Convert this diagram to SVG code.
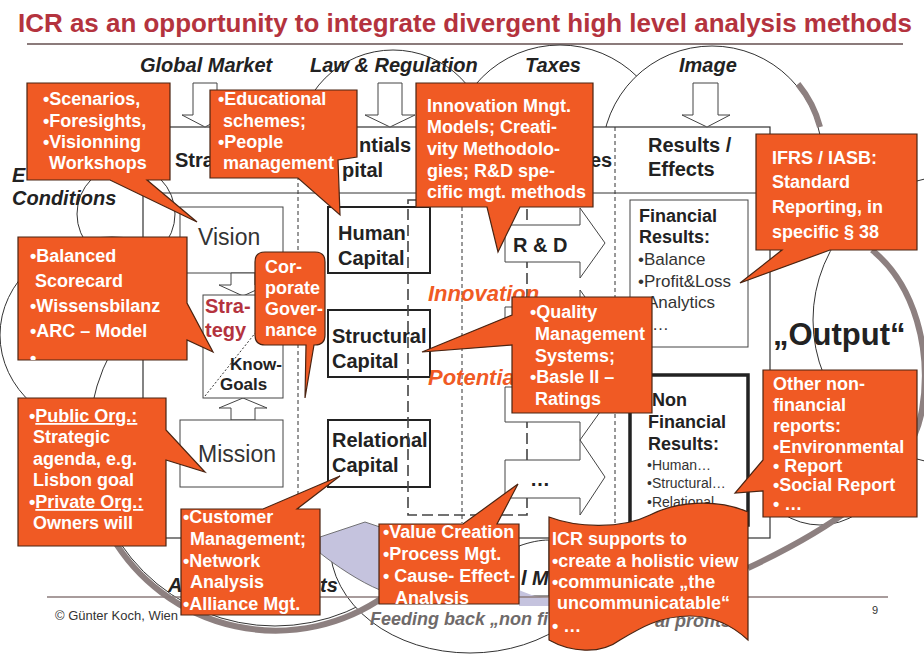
<svg xmlns="http://www.w3.org/2000/svg" width="924" height="659" viewBox="0 0 924 659">
<defs>
<style>
.cl{fill:#fff;stroke:#333;stroke-width:1}
.fr{fill:#fff;stroke:#333;stroke-width:1.2}
.bx{fill:#fff;stroke:#222;stroke-width:2}
.sb{fill:#fff;stroke:#444;stroke-width:1}
.ba{fill:#fff;stroke:#444;stroke-width:1}
.ds{fill:none;stroke:#333;stroke-width:1;stroke-dasharray:4 3}
.ld{fill:none;stroke:#444;stroke-width:1.6;stroke-dasharray:11 5}
.co{fill:#f05a24;stroke:#4a2412;stroke-width:1.2}
.sh{fill:none;stroke:#8d8080;stroke-width:6}
.ln{fill:none;stroke:#333;stroke-width:1}
text{font-family:"Liberation Sans",Arial,Helvetica,sans-serif}
.t{fill:#fff;font-weight:bold;font-size:18px}
.h{fill:#222;font-weight:bold;font-size:20px}
.x{fill:#222;font-weight:bold;font-style:italic;font-size:20px}
.n{fill:#333;font-size:17px}
.o{fill:#f05a24;font-weight:bold;font-style:italic;font-size:22px}
</style>
<clipPath id="cb"><rect x="18" y="237" width="169" height="123"/></clipPath>
<clipPath id="cv"><rect x="379" y="524" width="140" height="80"/></clipPath>
</defs>
<rect width="924" height="659" fill="#fff"/>

<g id="title">
<text x="18" y="32" font-size="26" font-weight="bold" fill="#b4333e" textLength="894" lengthAdjust="spacingAndGlyphs">ICR as an opportunity to integrate divergent high level analysis methods</text>
<line x1="27" y1="44" x2="903" y2="44" stroke="#8b7b7b" stroke-width="2"/>
</g>

<g id="cloud">
<circle class="cl" cx="393" cy="146" r="96"/>
<circle class="cl" cx="560" cy="155" r="110"/>
<circle class="cl" cx="712" cy="156" r="110"/>
<ellipse class="cl" cx="112" cy="335" rx="112" ry="98"/>
<ellipse class="cl" cx="820" cy="370" rx="100" ry="155"/>
<circle class="cl" cx="958" cy="320" r="145"/>
<circle class="cl" cx="275" cy="440" r="186"/>
<ellipse class="cl" cx="470" cy="545" rx="140" ry="108"/>
<path class="sh" d="M112,537 A190,190 0 0 0 385,596"/>
<path class="sh" stroke-width="4" d="M798,84 A112,112 0 0 1 820,127"/>
<path class="sh" d="M872,250 C915,285 932,350 922,410 C912,470 850,520 748,568"/>
</g>

<g id="frame">
<rect class="fr" x="143" y="127" width="627" height="411"/>
<line class="ln" x1="143" y1="193" x2="770" y2="193"/>
<line class="ds" x1="298" y1="127" x2="298" y2="538"/>
<line class="ds" x1="615" y1="127" x2="615" y2="538"/>
<line class="ds" x1="462" y1="200" x2="462" y2="523"/>
<text class="h" x="175" y="167">Stra</text>
<text class="h" x="359" y="152">ntials</text>
<text class="h" x="342" y="177">pital</text>
<text class="h" x="590" y="167">es</text>
<text class="h" x="648" y="152">Results /</text>
<text class="h" x="648" y="176">Effects</text>
</g>

<g id="small-circle"><circle class="ln" cx="126" cy="214" r="49"/></g>

<g id="ext">
<path class="ba" d="M193,83 H217 V115 H228 L205,127 L182,115 H193 Z"/>
<path class="ba" d="M378,83 H402 V115 H415 L390,127 L365,115 H378 Z"/>
<path class="ba" d="M693,83 H718 V115 H730 L707,127 L682,115 H693 Z"/>
<text class="x" x="140" y="72">Global Market</text>
<text class="x" x="310" y="72">Law &amp; Regulation</text>
<text class="x" x="525" y="72">Taxes</text>
<text class="x" x="679" y="72">Image</text>
<text class="x" x="12" y="182">E</text>
<text class="x" x="12" y="205">Conditions</text>
</g>

<g id="vision"><rect class="sb" x="180" y="207" width="103" height="66"/><text x="198" y="245" font-size="23" fill="#333">Vision</text></g>
<g id="strategy">
<path class="ba" d="M231,273 H255 V285 H267 L243,296 L219,285 H231 Z"/>
<path class="ba" d="M231,420 H255 V408 H267 L243,398 L219,408 H231 Z"/>
<rect class="sb" x="203" y="295" width="80" height="103"/>
<line x1="205" y1="396" x2="256" y2="332" stroke="#333" stroke-dasharray="2 2"/>
<text x="205" y="313" font-size="20" font-weight="bold" fill="#b4333e">Stra-</text>
<text x="205" y="337" font-size="20" font-weight="bold" fill="#b4333e">tegy</text>
<text x="230" y="370" font-size="17" font-weight="bold" fill="#222">Know-</text>
<text x="220" y="390" font-size="17" font-weight="bold" fill="#222">Goals</text>
</g>
<g id="mission"><rect class="sb" x="180" y="420" width="103" height="67"/><text x="198" y="462" font-size="23" fill="#333">Mission</text></g>

<g id="human"><rect class="bx" x="328" y="207" width="102" height="66"/><text class="h" x="338" y="240">Human</text><text class="h" x="338" y="265">Capital</text></g>
<g id="structural"><rect class="bx" x="328" y="310" width="102" height="67"/><text class="h" x="332" y="343">Structural</text><text class="h" x="332" y="368">Capital</text></g>
<g id="relational"><rect class="bx" x="328" y="420" width="102" height="67"/><text class="h" x="332" y="447">Relational</text><text class="h" x="332" y="472">Capital</text></g>

<g id="potentials">
<rect class="ld" x="408" y="200" width="119" height="315"/>
<text class="o" x="428" y="301">Innovation</text>
<text class="o" x="428" y="385">Potentia</text>
</g>

<g id="processes">
<path class="ba" d="M505,225 H580 V208 L605,243 L580,278 V262 H505 Z"/>
<path class="ba" d="M505,307 H580 V290 L605,325 L580,360 V343 H505 Z"/>
<path class="ba" d="M505,387 H580 V370 L605,405 L580,440 V422 H505 Z"/>
<path class="ba" d="M505,460 H580 V440 L605,477 L580,515 V498 H505 Z"/>
<text class="h" x="513" y="252">R &amp; D</text>
<text class="h" x="530" y="486">…</text>
</g>

<g id="financial">
<rect class="sb" x="630" y="200" width="118" height="147" stroke-width="1.5"/>
<text x="639" y="222" font-size="18" font-weight="bold" fill="#222">Financial</text>
<text x="639" y="243" font-size="18" font-weight="bold" fill="#222">Results:</text>
<text class="n" x="638" y="265">•Balance</text>
<text class="n" x="638" y="287">•Profit&amp;Loss</text>
<text class="n" x="647" y="308">Analytics</text>
<text class="n" x="652" y="330">…</text>
</g>
<g id="nonfinancial">
<rect x="630" y="375" width="118" height="150" fill="#fff" stroke="#222" stroke-width="3.5"/>
<text x="652" y="406" font-size="18" font-weight="bold" fill="#222">Non</text>
<text x="648" y="428" font-size="18" font-weight="bold" fill="#222">Financial</text>
<text x="648" y="450" font-size="18" font-weight="bold" fill="#222">Results:</text>
<text x="647" y="470" font-size="14" fill="#333">•Human…</text>
<text x="647" y="488" font-size="14" fill="#333">•Structural…</text>
<text x="647" y="507" font-size="14" fill="#333">•Relational</text>
</g>

<g id="output"><text x="773" y="345" font-size="31" font-weight="bold" fill="#222">„Output“</text></g>

<g id="bottom-labels">
<path d="M320,537 L365,522 L380,527 L380,590 C360,582 335,565 320,553 Z" fill="#c5c3de" stroke="#555" stroke-width="0.8"/>
<path d="M519,546 C530,542 540,540 549,540 L549,596 L519,596 Z" fill="#fff" stroke="#333" stroke-width="1"/>
<path d="M519,590 C530,595 540,598 549,598 L549,606 L519,606 Z" fill="#c5c3de"/>
<text class="x" x="521" y="585">l M</text>
<text class="x" x="168" y="592">A</text>
<text class="x" x="320" y="592">ts</text>
<text x="370" y="625" font-size="18" font-weight="bold" font-style="italic" fill="#6f6a6a">Feeding back „non fi</text>
<text x="655" y="627" font-size="18" font-weight="bold" font-style="italic" fill="#6f6a6a">al profits</text>
</g>

<g id="footer">
<line x1="47" y1="597" x2="888" y2="597" stroke="#8b7b7b" stroke-width="1.5"/>
<text x="55" y="620" font-size="13" fill="#333">© Günter Koch, Wien</text>
<text x="872" y="614" font-size="11" fill="#333">9</text>
</g>

<g id="c-scenarios">
<polygon class="co" points="27,83 170,83 170,180 147,180 197,222 110,180 27,180"/>
<text class="t" x="43" y="105">•Scenarios,</text>
<text class="t" x="43" y="127">•Foresights,</text>
<text class="t" x="43" y="148">•Visionning</text>
<text class="t" x="49" y="169">Workshops</text>
</g>
<g id="c-educational">
<polygon class="co" points="210,90 357,90 357,157 338,160 340,215 298,178 210,178"/>
<text class="t" x="218" y="105">•Educational</text>
<text class="t" x="223" y="127">schemes;</text>
<text class="t" x="218" y="148">•People</text>
<text class="t" x="223" y="169">management</text>
</g>
<g id="c-innovation">
<polygon class="co" points="416,83 593,83 593,207 520,207 498,252 487,207 416,207"/>
<text class="t" font-size="17" x="427" y="112">Innovation Mngt.</text>
<text class="t" font-size="17" x="427" y="133">Models; Creati-</text>
<text class="t" font-size="17" x="427" y="155">vity Methodolo-</text>
<text class="t" font-size="17" x="427" y="177">gies; R&amp;D spe-</text>
<text class="t" font-size="17" x="427" y="198">cific mgt. methods</text>
</g>
<g id="c-ifrs">
<polygon class="co" points="756,134 917,134 917,250 830,250 740,283 782,250 756,250"/>
<text class="t" font-size="20" x="772" y="164">IFRS / IASB:</text>
<text class="t" font-size="20" x="772" y="188">Standard</text>
<text class="t" font-size="20" x="772" y="213">Reporting, in</text>
<text class="t" font-size="20" x="772" y="238">specific § 38</text>
</g>
<g id="c-balanced">
<polygon class="co" points="18,237 187,237 187,303 213,352 187,340 187,360 18,360"/>
<g clip-path="url(#cb)">
<text class="t" font-size="20" x="30" y="262">•Balanced</text>
<text class="t" font-size="20" x="35" y="287">Scorecard</text>
<text class="t" font-size="20" x="30" y="312">•Wissensbilanz</text>
<text class="t" font-size="20" x="30" y="337">•ARC – Model</text>
<text class="t" font-size="20" x="30" y="364">• …</text>
</g>
</g>
<g id="c-governance">
<path class="co" d="M265,252 H315 Q325,252 325,262 V335 Q325,345 315,345 H314 L305,398 L306,345 H265 Q255,345 255,335 V262 Q255,252 265,252 Z"/>
<text class="t" font-size="17" x="265" y="273">Cor-</text>
<text class="t" font-size="17" x="265" y="294">porate</text>
<text class="t" font-size="17" x="265" y="315">Gover-</text>
<text class="t" font-size="17" x="265" y="336">nance</text>
</g>
<g id="c-public">
<polygon class="co" points="18,398 166,398 166,430 205,472 166,460 166,546 18,546"/>
<text class="t" x="29" y="422">•<tspan text-decoration="underline">Public Org.:</tspan></text>
<text class="t" x="33" y="443">Strategic</text>
<text class="t" x="33" y="465">agenda, e.g.</text>
<text class="t" x="33" y="486">Lisbon goal</text>
<text class="t" x="29" y="508">•<tspan text-decoration="underline">Private Org.:</tspan></text>
<text class="t" x="33" y="529">Owners will</text>
</g>
<g id="c-customer">
<polygon class="co" points="181,509 263,509 340,476 297,509 320,509 320,615 181,615"/>
<text class="t" x="183" y="523">•Customer</text>
<text class="t" x="190" y="545">Management;</text>
<text class="t" x="183" y="567">•Network</text>
<text class="t" x="190" y="588">Analysis</text>
<text class="t" x="183" y="610">•Alliance Mgt.</text>
</g>
<g id="c-value">
<polygon class="co" points="379,524 463,524 518,484 497,524 519,524 519,604 379,604"/>
<g clip-path="url(#cv)">
<text class="t" x="383" y="538">•Value Creation</text>
<text class="t" x="383" y="560">•Process Mgt.</text>
<text class="t" x="383" y="582">• Cause- Effect-</text>
<text class="t" x="395" y="604">Analysis</text>
</g>
</g>
<g id="c-quality">
<polygon class="co" points="512,297 652,297 652,413 512,413 512,345 422,352 512,315"/>
<text class="t" x="530" y="318">•Quality</text>
<text class="t" x="535" y="340">Management</text>
<text class="t" x="535" y="362">Systems;</text>
<text class="t" x="530" y="383">•Basle II –</text>
<text class="t" x="535" y="405">Ratings</text>
</g>
<g id="c-other">
<polygon class="co" points="763,370 917,370 917,517 763,517 763,491 735,493 763,460"/>
<text class="t" x="773" y="390">Other non-</text>
<text class="t" x="773" y="411">financial</text>
<text class="t" x="773" y="432">reports:</text>
<text class="t" font-size="14.5" x="773" y="453">•Environmental</text>
<text class="t" font-size="14.5" x="773" y="472">• Report</text>
<text class="t" font-size="14.5" x="773" y="491">•Social Report</text>
<text class="t" font-size="14.5" x="773" y="510">• …</text>
</g>
<g id="c-icr">
<path class="co" d="M549,517 C575,527 620,530 650,515 C675,502 715,498 748,512 L748,640 C735,628 715,616 690,616 C660,616 640,628 620,640 C600,655 570,652 549,640 Z"/>
<text class="t" x="552" y="545">ICR supports to</text>
<text class="t" x="552" y="567">•create a holistic view</text>
<text class="t" x="552" y="588">•communicate „the</text>
<text class="t" x="557" y="609">uncommunicatable“</text>
<text class="t" x="552" y="632">• …</text>
</g>
</svg>
